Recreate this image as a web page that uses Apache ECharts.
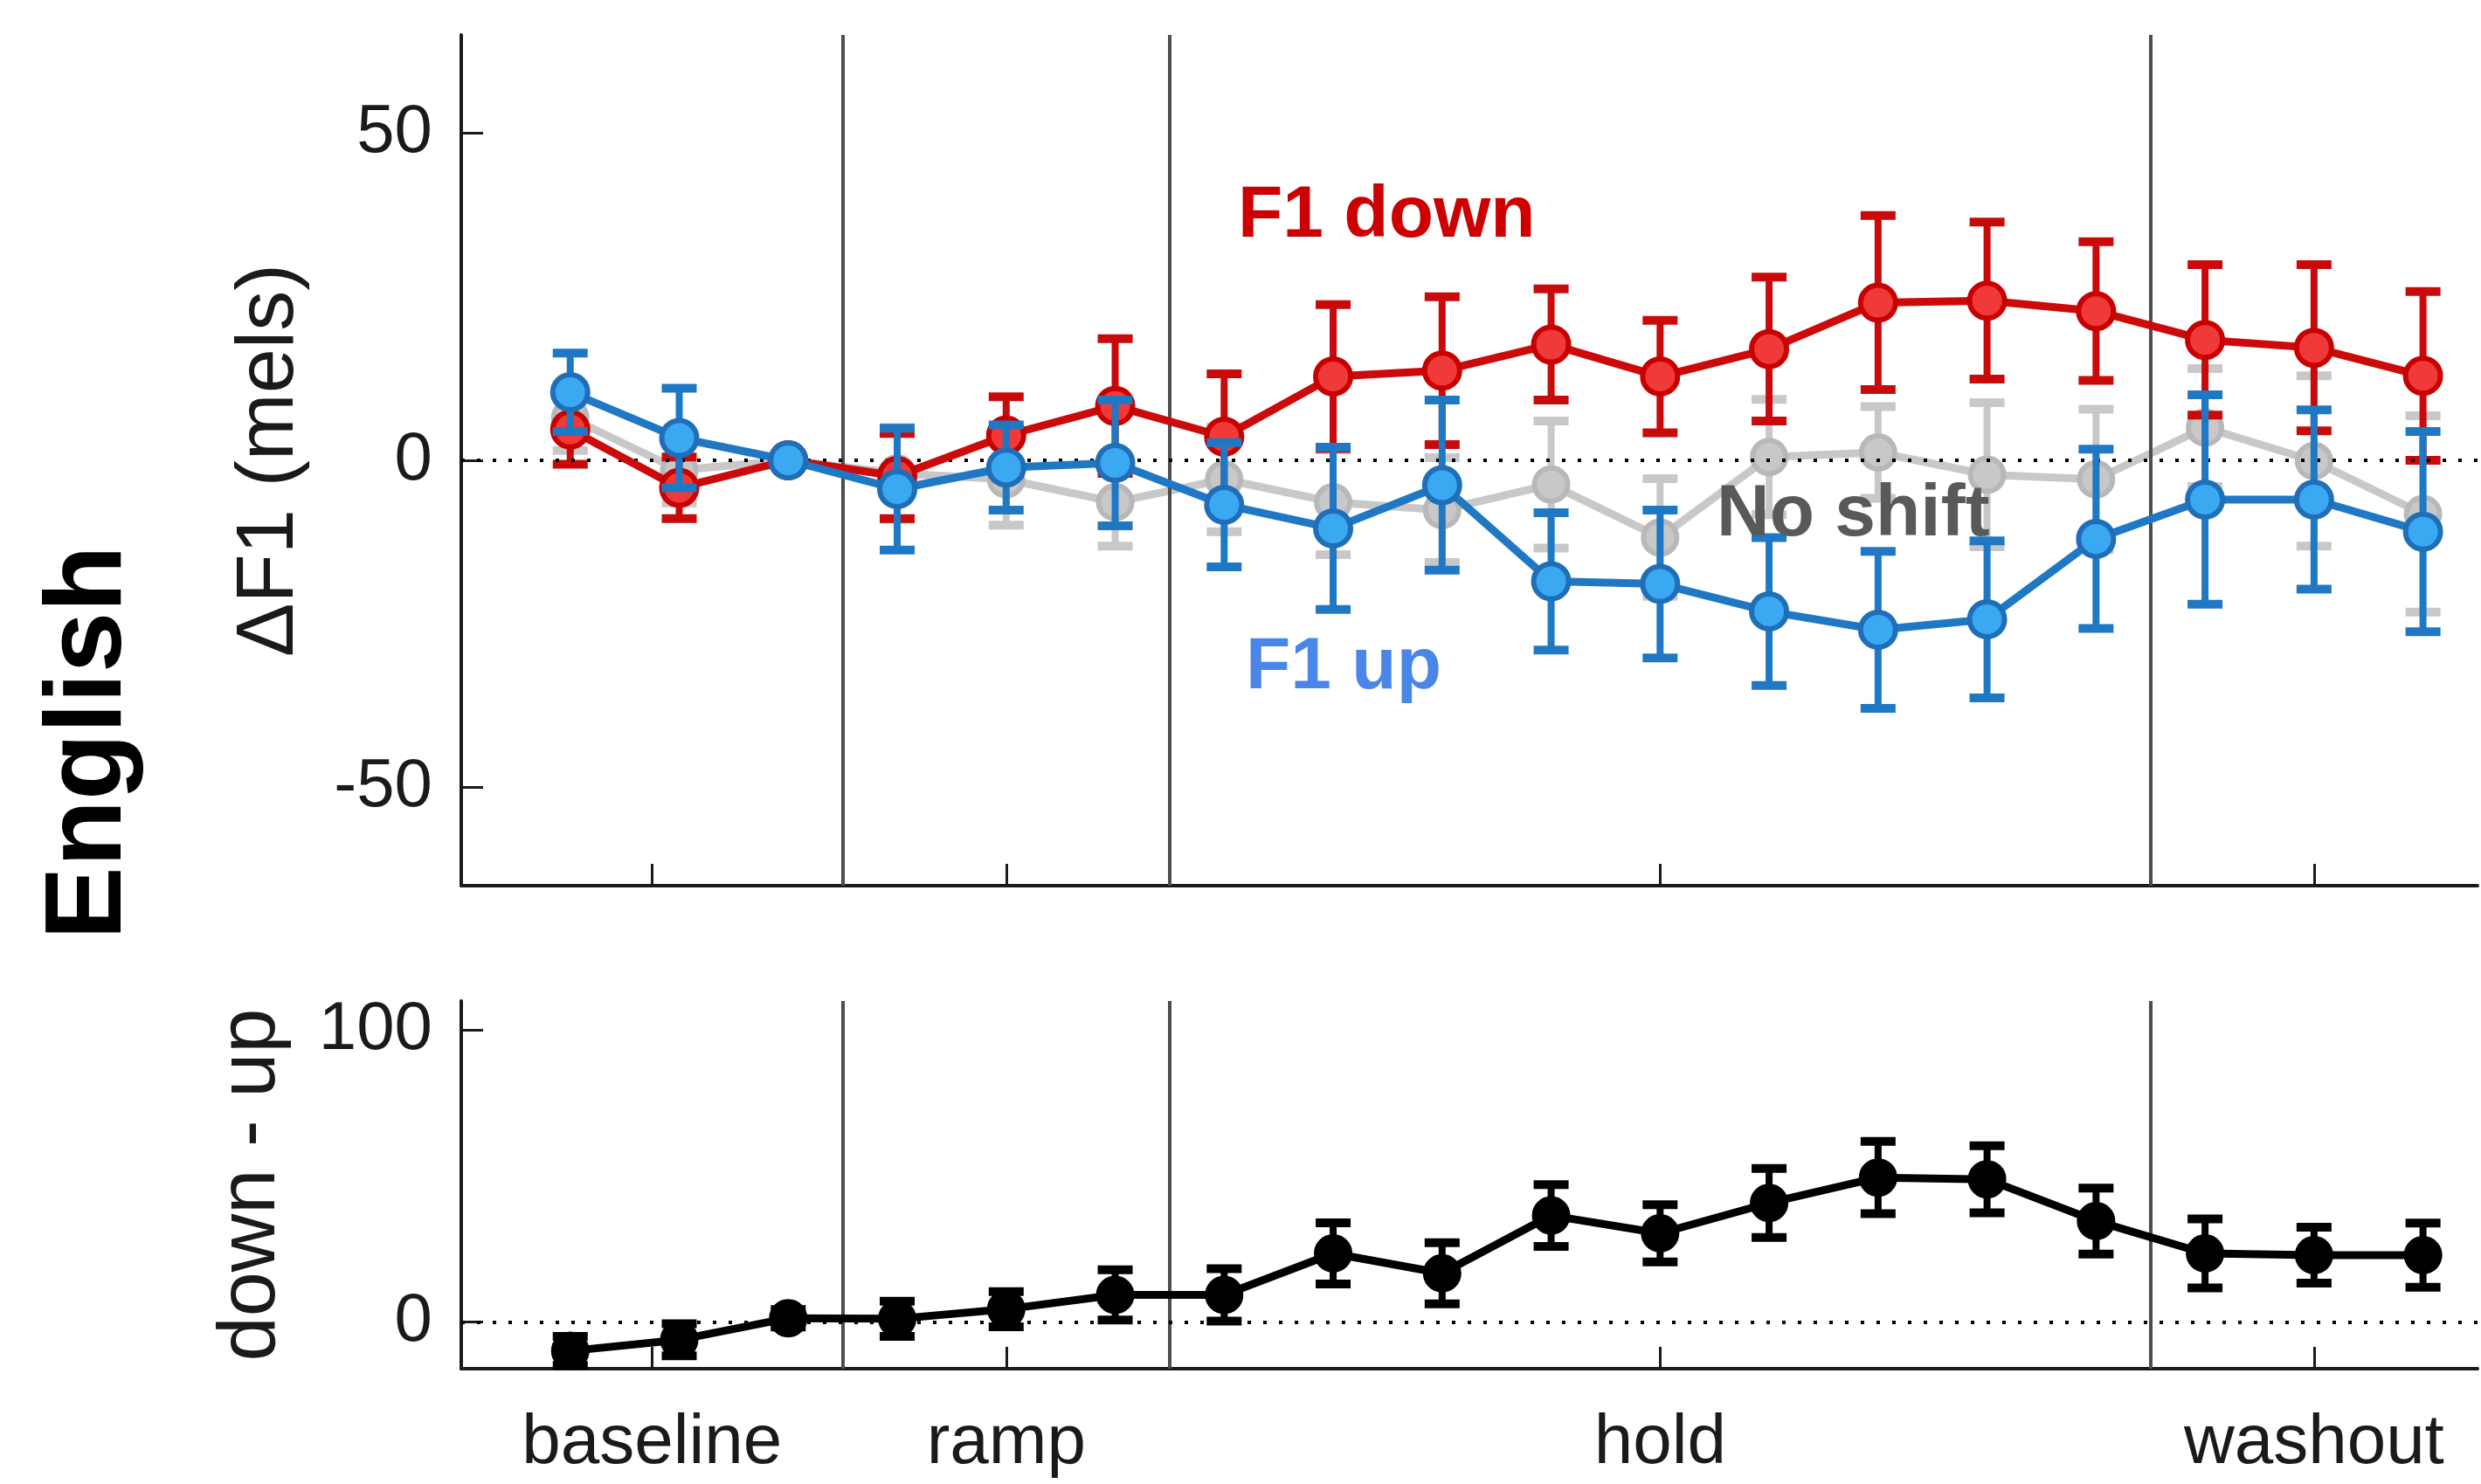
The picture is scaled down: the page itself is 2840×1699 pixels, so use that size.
<!DOCTYPE html>
<html><head><meta charset="utf-8">
<script src="https://cdn.jsdelivr.net/npm/echarts@6/dist/echarts.min.js"></script>
<style>html,body{margin:0;padding:0;background:#fff}#c{width:2840px;height:1699px}</style>
</head><body><div id="c"></div>
<script>
// ---------- data ----------
const bins = [1, 2, 3, 4, 5, 6, 7, 8, 9, 10, 11, 12, 13, 14, 15, 16, 17, 18];
const phaseNames = ['baseline', 'ramp', 'hold', 'washout'];
const phaseTicks = [1.75, 5, 11, 17];
const phaseBounds = [3.5, 6.5, 15.5];
const topYTicks = [-50, 0, 50];
const bottomYTicks = [0, 100];

const downMean = [4.7, -4.2, 0, -2.4, 3.8, 8.3, 3.6, 12.8, 13.7, 17.7, 12.8, 17.0, 24.1, 24.4, 22.8, 18.4, 17.2, 12.9];
const downErr  = [5.3, 4.7, 0, 6.5, 5.9, 10.3, 9.6, 11.0, 11.3, 8.5, 8.6, 11.0, 13.3, 12.0, 10.6, 11.5, 12.7, 12.9];

const upMean = [10.4, 3.4, 0, -4.4, -1.1, -0.4, -6.8, -10.4, -3.8, -18.5, -18.9, -23.1, -25.9, -24.3, -12.0, -6.0, -6.0, -10.9];
const upErr  = [6.0, 7.6, 0, 9.3, 6.5, 9.6, 9.5, 12.4, 13.0, 10.5, 11.3, 11.3, 12.0, 12.0, 13.7, 16.0, 13.7, 15.3];

const noShiftMean = [6.5, -1.5, 0, -2.0, -2.9, -6.4, -2.9, -6.4, -7.6, -3.7, -11.8, 0.5, 1.2, -2.2, -2.9, 5.0, -0.1, -8.2];
const noShiftErr  = [5.0, 5.0, 0, 7.0, 7.0, 6.7, 8.0, 8.0, 8.0, 9.7, 9.0, 8.8, 7.0, 11.0, 10.7, 9.0, 13.0, 15.0];

const diffMean = [-9.9, -6.1, 1.3, 1.1, 4.4, 9.3, 9.3, 23.5, 16.7, 36.5, 30.4, 40.8, 49.5, 48.9, 34.6, 23.5, 22.9, 22.9];
const diffErr  = [5.0, 5.5, 3.0, 6.0, 6.0, 8.6, 9.0, 10.5, 10.5, 10.6, 9.8, 11.8, 12.4, 11.5, 11.3, 11.8, 9.6, 11.0];

// ---------- helpers ----------
const FONT = 'Liberation Sans, Arial, Helvetica, sans-serif';
const pts = (m) => bins.map((b, i) => [b, m[i]]);
const errPts = (m, e) => bins.map((b, i) => [b, m[i], e[i]]);

function errRender(color, width, capHalf) {
  return function (params, api) {
    const x = api.value(0), m = api.value(1), e = api.value(2);
    if (!e) return null;
    const t = api.coord([x, m + e]), b = api.coord([x, m - e]);
    const style = { stroke: color, lineWidth: width };
    return { type: 'group', children: [
      { type: 'line', shape: { x1: t[0], y1: t[1], x2: b[0], y2: b[1] }, style },
      { type: 'line', shape: { x1: t[0] - capHalf, y1: t[1], x2: t[0] + capHalf, y2: t[1] }, style: { stroke: color, lineWidth: width + 2 } },
      { type: 'line', shape: { x1: b[0] - capHalf, y1: b[1], x2: b[0] + capHalf, y2: b[1] }, style: { stroke: color, lineWidth: width + 2 } }
    ]};
  };
}

function errSeries(gi, m, e, color, z) {
  return { type: 'custom', xAxisIndex: gi, yAxisIndex: gi, z,
    renderItem: errRender(color, 8, 20), encode: { x: 0, y: 1 },
    data: errPts(m, e), silent: true };
}
function lineSeries(gi, name, m, lineColor, fill, border, z, size) {
  return { type: 'line', name, xAxisIndex: gi, yAxisIndex: gi, z,
    data: pts(m), symbol: 'circle', symbolSize: size, showSymbol: true,
    lineStyle: { color: lineColor, width: 9 },
    itemStyle: { color: fill, borderColor: border, borderWidth: 6 },
    silent: true };
}
function refSeries(gi) {
  return { type: 'line', xAxisIndex: gi, yAxisIndex: gi, z: 1,
    data: [[0, 0]], showSymbol: false, symbol: 'none', lineStyle: { opacity: 0 }, silent: true,
    markLine: { silent: true, symbol: ['none', 'none'], label: { show: false },
      animation: false,
      lineStyle: { color: '#4d4d4d', width: 4, type: 'solid' },
      data: phaseBounds.map(v => ({ xAxis: v }))
        .concat([{ yAxis: 0, lineStyle: { color: '#000', width: 4, type: [4, 14] } }]) } };
}

const axisLineStyle = { color: '#1a1a1a', width: 4 };
function xAxis(gi, showLabels) {
  return { type: 'value', gridIndex: gi, min: 0, max: 18.5,
    axisLine: { show: true, onZero: false, lineStyle: axisLineStyle },
    axisTick: { show: true, inside: true, length: 25, customValues: phaseTicks, lineStyle: { color: '#1a1a1a', width: 3 } },
    axisLabel: { show: showLabels, customValues: phaseTicks, margin: 46,
      fontSize: 80, fontFamily: FONT, color: '#1a1a1a',
      formatter: (v) => { const i = phaseTicks.findIndex(t => Math.abs(t - v) < 1e-6); return i >= 0 ? phaseNames[i] : ''; } },
    splitLine: { show: false } };
}
function yAxis(gi, min, max, ticks, name, nameGap) {
  return { type: 'value', gridIndex: gi, min, max,
    axisLine: { show: true, onZero: false, lineStyle: axisLineStyle },
    axisTick: { show: true, inside: true, length: 25, customValues: ticks, lineStyle: { color: '#1a1a1a', width: 3 } },
    axisLabel: { show: true, customValues: ticks, margin: 33, fontSize: 78, fontFamily: FONT, color: '#1a1a1a' },
    splitLine: { show: false },
    name, nameLocation: 'middle', nameRotate: 90, nameGap,
    nameTextStyle: { fontSize: 92, fontFamily: FONT, color: '#1a1a1a' } };
}

const chart = echarts.init(document.getElementById('c'), null, { renderer: 'canvas' });
chart.setOption({
  animation: false,
  backgroundColor: '#fff',
  grid: [
    { left: 528, top: 40, right: 4, height: 974 },
    { left: 528, top: 1146, right: 4, height: 421 }
  ],
  xAxis: [xAxis(0, false), xAxis(1, true)],
  yAxis: [
    yAxis(0, -65, 65, topYTicks, 'ΔF1 (mels)', 172),
    yAxis(1, -16, 110, bottomYTicks, 'down - up', 193)
  ],
  series: [
    refSeries(0),
    refSeries(1),
    errSeries(0, noShiftMean, noShiftErr, '#c8c8c8', 2),
    lineSeries(0, 'No shift', noShiftMean, '#c8c8c8', '#c8c8c8', '#b8b8b8', 3, 38),
    errSeries(0, downMean, downErr, '#c80a0a', 4),
    lineSeries(0, 'F1 down', downMean, '#cc0a0a', '#f03a3a', '#c80000', 5, 40),
    errSeries(0, upMean, upErr, '#1f78c4', 6),
    lineSeries(0, 'F1 up', upMean, '#1f78c4', '#3ba8f2', '#1f6fb8', 7, 40),
    errSeries(1, diffMean, diffErr, '#000', 4),
    lineSeries(1, 'down - up', diffMean, '#000', '#000', '#000', 5, 38)
  ],
  graphic: [
    { type: 'text', x: 104, y: 850, rotation: Math.PI / 2,
      style: { text: 'English', fontSize: 125, fontWeight: 'bold', fontFamily: FONT, fill: '#000', align: 'center', verticalAlign: 'middle' } },
    { type: 'text', x: 1417, y: 248,
      style: { text: 'F1 down', fontSize: 84, fontWeight: 'bold', fontFamily: FONT, fill: '#cc0000', align: 'left', verticalAlign: 'middle' } },
    { type: 'text', x: 1426, y: 765,
      style: { text: 'F1 up', fontSize: 84, fontWeight: 'bold', fontFamily: FONT, fill: '#4a86e8', align: 'left', verticalAlign: 'middle' } },
    { type: 'text', x: 1965, y: 590, z: 20,
      style: { text: 'No shift', fontSize: 84, fontWeight: 'bold', fontFamily: FONT, fill: '#595959', align: 'left', verticalAlign: 'middle' } }
  ]
});
</script></body></html>
